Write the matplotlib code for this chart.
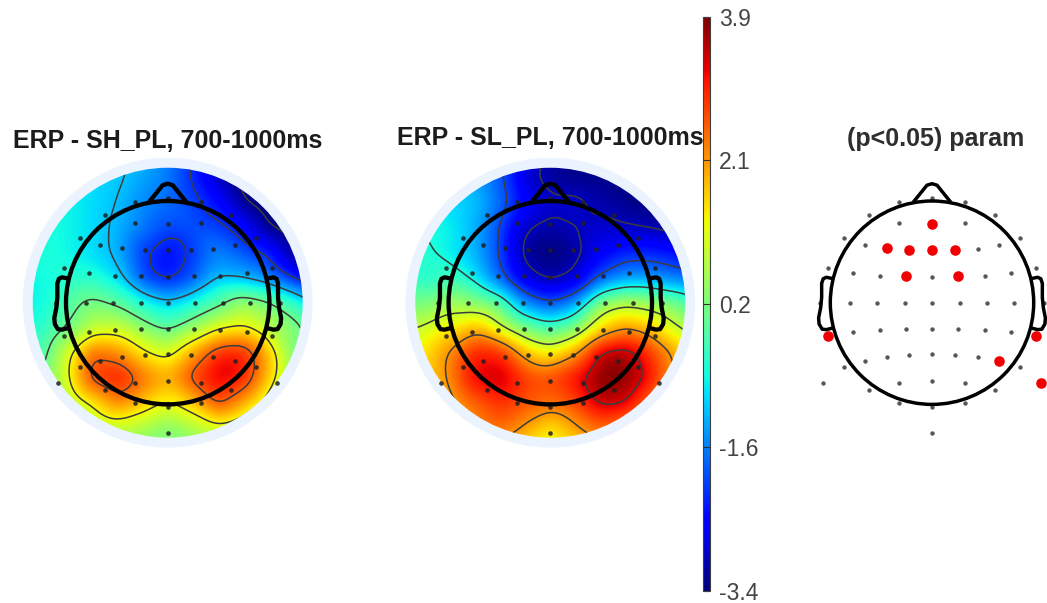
import numpy as np
import matplotlib
matplotlib.use("Agg")
from matplotlib import pyplot
from matplotlib import tri
from matplotlib.cm import ScalarMappable
from matplotlib.colors import Normalize
from matplotlib.patches import Circle

W, H = 1047, 603
head_px = 101.7  # pixels per head radius
vmin, vmax = -3.4, 3.9

# electrodes (crop px, head centre 366,398, radius 305)
other_x = [267, 366, 465, 177, 556, 267, 465, 103, 630, 164, 568, 503, 54, 679,
           130, 603, 209, 366, 524, 30, 120, 202, 285, 366, 449, 531, 613, 702,
           130, 603, 209, 287, 366, 445, 524, 164, 230, 298, 366, 435, 503, 103, 630,
           38, 267, 465, 366, 177, 556, 267, 465, 366, 366]
other_y = [95, 85, 95, 135, 135, 160, 160, 205, 205, 225, 225, 237, 295, 295,
           310, 310, 318, 320, 318, 398, 398, 398, 398, 398, 398, 398, 398, 398,
           487, 487, 480, 478, 476, 478, 480, 572, 560, 555, 553, 555, 560, 590, 590,
           640, 638, 638, 632, 660, 660, 700, 700, 712, 790]
sig_x = [366, 230, 298, 366, 435, 287, 445, 54, 679, 568, 693]
sig_y = [163, 235, 240, 241, 240, 319, 319, 498, 498, 572, 640]

# potential on a coarse grid, top row first
erp_sh = [
    [-0.8, -0.8, -0.8, -0.9, -1.1, -1.2, -1.5, -2.2, -3.0, -3.7, -3.8, -3.8, -3.8],
    [-0.8, -0.8, -0.8, -0.9, -1.0, -1.3, -1.6, -2.2, -3.0, -3.5, -3.7, -3.7, -3.7],
    [-0.7, -0.7, -0.7, -0.9, -1.1, -1.5, -1.7, -2.0, -2.4, -3.3, -3.6, -3.7, -3.7],
    [-0.6, -0.6, -0.7, -0.9, -1.2, -1.6, -2.0, -1.9, -2.0, -2.4, -3.3, -3.6, -3.7],
    [-0.6, -0.6, -0.7, -0.9, -1.2, -2.1, -2.5, -2.1, -1.5, -1.8, -2.2, -3.3, -3.6],
    [-0.7, -0.7, -0.5, -0.5, -0.9, -2.0, -2.4, -1.9, -1.1, -1.2, -1.5, -2.2, -2.9],
    [-0.8, -0.7, -0.1, 0.3, 0.0, -0.6, -1.0, -0.6, -0.1, 0.6, 0.3, -0.3, -1.2],
    [-0.6, -0.5, 0.1, 0.9, 1.0, 0.4, -0.1, 0.5, 1.2, 1.4, 0.8, 0.4, -0.2],
    [-0.5, -0.2, 1.1, 2.6, 2.2, 1.4, 1.0, 2.0, 3.0, 3.1, 1.9, 0.3, -0.4],
    [-0.3, 0.1, 1.2, 2.9, 3.2, 2.4, 1.9, 2.8, 3.4, 3.1, 1.8, 0.4, -0.2],
    [-0.1, 0.1, 0.7, 1.4, 2.3, 1.7, 1.2, 1.7, 2.8, 2.0, 1.0, 0.3, -0.1],
    [0.0, 0.1, 0.3, 0.6, 0.9, 0.7, 0.3, 0.7, 1.1, 0.7, 0.4, 0.2, 0.0],
    [0.0, 0.1, 0.2, 0.2, 0.2, 0.2, 0.2, 0.2, 0.2, 0.2, 0.2, 0.1, 0.0],
]
erp_sl = [
    [-1.0, -1.0, -1.2, -1.5, -2.0, -2.6, -3.2, -3.4, -3.4, -3.4, -3.4, -3.4, -3.4],
    [-0.9, -0.9, -1.0, -1.3, -1.8, -2.9, -3.2, -3.3, -3.3, -3.4, -3.4, -3.4, -3.4],
    [-0.8, -0.8, -0.9, -1.0, -1.7, -2.5, -2.9, -2.8, -3.1, -3.3, -3.4, -3.4, -3.4],
    [-0.6, -0.6, -0.7, -1.2, -2.0, -3.0, -3.15, -3.0, -2.85, -2.95, -3.05, -3.2, -3.3],
    [-0.5, -0.5, -0.8, -1.2, -2.0, -3.25, -3.5, -3.25, -2.6, -2.2, -2.2, -2.4, -2.7],
    [-0.3, -0.65, -0.3, -0.8, -1.8, -2.8, -3.2, -2.9, -1.9, -1.4, -1.4, -1.6, -1.9],
    [0.2, 0.2, 0.6, 0.4, 0.0, -1.5, -2.0, -1.5, 0.4, 0.8, 0.6, 0.2, -0.4],
    [0.8, 1.0, 1.4, 1.9, 1.0, 0.2, -0.3, 0.2, 1.5, 2.1, 1.7, 1.0, 0.4],
    [1.1, 1.5, 2.2, 3.1, 3.0, 1.8, 1.3, 2.0, 3.5, 3.7, 2.9, 2.0, 1.2],
    [1.2, 1.6, 2.2, 3.3, 3.5, 2.8, 2.7, 3.2, 3.9, 3.9, 3.2, 2.0, 1.2],
    [1.2, 1.6, 1.9, 2.5, 2.9, 2.6, 2.4, 2.7, 3.5, 3.4, 2.4, 1.6, 1.2],
    [1.1, 1.4, 1.8, 2.1, 2.5, 2.0, 1.4, 2.0, 2.5, 2.2, 1.8, 1.4, 1.1],
    [1.0, 1.2, 1.4, 1.6, 1.6, 1.4, 1.1, 1.4, 1.6, 1.6, 1.4, 1.2, 1.0],
]
levels_sh = [-3.3, -2.15, -1.1, 0.1, 1.3, 2.5]
levels_sl = [-3.0, -1.95, -0.6, 0.9, 2.1, 3.3]
cbar_ticks = [-3.4, -1.575, 0.25, 2.075, 3.9]
cbar_labels = ["-3.4", "-1.6", "0.2", "2.1", "3.9"]

# head outline in head radii
nose_x = [-0.175, -0.11, -0.05, 0, 0.05, 0.11, 0.175]
nose_y = [1.0, 1.08, 1.155, 1.17, 1.155, 1.08, 1.0]
ear_x = [0.99, 1.04, 1.07, 1.085, 1.085, 1.095, 1.115, 1.11, 1.08, 1.04, 0.98]
ear_y = [0.24, 0.25, 0.235, 0.19, 0.05, -0.05, -0.15, -0.21, -0.26, -0.265, -0.25]

pyplot.rcParams['font.family'] = ['Liberation Sans', 'DejaVu Sans']

fig = pyplot.figure(figsize=(W / 100, H / 100), dpi=100)


def head_axes(cx, cy, half=1.5):
    half_px = half * head_px
    ax = fig.add_axes([(cx - half_px) / W, 1 - (cy + half_px) / H, 2 * half_px / W, 2 * half_px / H])
    ax.set_xlim(-half, half)
    ax.set_ylim(-half, half)
    ax.axis('off')
    return ax


def draw_head(ax, lw):
    ax.add_patch(Circle((0, 0), 1.0, fill=False, ec='black', lw=lw, zorder=6, clip_on=False))
    ax.plot(nose_x, nose_y, color='black', lw=lw, zorder=6, clip_on=False, solid_joinstyle='round')
    for side in (-1, 1):
        ax.plot(side * np.array(ear_x), ear_y, color='black', lw=lw, zorder=6, clip_on=False,
                solid_joinstyle='round')


def smooth(z, step, sigma):
    # gaussian along both axes to take the kinks out of the linear surface
    n = int(4 * sigma / step)
    k = np.exp(-0.5 * (np.arange(-n, n + 1) * step / sigma) ** 2)
    k /= k.sum()
    z = np.pad(z, n, mode='edge')
    z = np.apply_along_axis(lambda r: np.convolve(r, k, mode='same'), 0, z)
    z = np.apply_along_axis(lambda r: np.convolve(r, k, mode='same'), 1, z)
    return z[n:-n, n:-n]


elec_x = (np.array(other_x + sig_x) - 366) / 305
elec_y = (398 - np.array(other_y + sig_y)) / 305

grid = np.arange(-6, 7) * 0.2458
gx, gy = np.meshgrid(grid, grid[::-1])
tr = tri.Triangulation(gx.ravel(), gy.ravel())
fine = np.linspace(grid[0], grid[-1], 500)
fx, fy = np.meshgrid(fine, fine)

panels = [(167.7, erp_sh, levels_sh), (550.3, erp_sl, levels_sl)]
for cx, values, levels in panels:
    ax = head_axes(cx, 302.7)
    ax.add_patch(Circle((0, 0), 1.425, fc='#ebf3fe', ec='none', zorder=0))
    interp = tri.LinearTriInterpolator(tr, np.array(values).ravel())
    zi = smooth(np.ma.filled(interp(fx, fy), 0.0), fine[1] - fine[0], 0.08)
    disc = Circle((0, 0), 1.327, transform=ax.transData)
    im = ax.imshow(zi, extent=[fine[0], fine[-1], fine[0], fine[-1]], origin='lower', cmap='jet',
                   vmin=vmin, vmax=vmax, interpolation='bilinear', zorder=1)
    ax.set_xlim(-1.5, 1.5)
    ax.set_ylim(-1.5, 1.5)
    im.set_clip_path(disc)
    cs = ax.contour(fx, fy, zi, levels=levels, colors='#3c3c3c', linewidths=1.1, linestyles='solid', zorder=2)
    cs.set_clip_path(disc)
    ax.scatter(elec_x, elec_y, s=11, c='#202020', linewidths=0, alpha=0.85, zorder=3, clip_on=False)
    draw_head(ax, 3.1)

ax3 = head_axes(932, 302.7, half=1.3)
n_other = len(other_x)
ax3.scatter(elec_x[:n_other], elec_y[:n_other], s=10, c='#3a3a3a', linewidths=0, alpha=0.85, zorder=3, clip_on=False)
ax3.scatter(elec_x[n_other:], elec_y[n_other:], s=58, c='#f00000', linewidths=0, zorder=7, clip_on=False)
draw_head(ax3, 2.5)

title_size = 18
fig.text(167.5 / W, 1 - 141 / H, "ERP - SH_PL, 700-1000ms", ha='center', va='center', fontsize=title_size,
         fontweight='bold', color='#1c1c1c')
fig.text(550.5 / W, 1 - 138 / H, "ERP - SL_PL, 700-1000ms", ha='center', va='center', fontsize=title_size,
         fontweight='bold', color='#1c1c1c')
fig.text(936 / W, 1 - 139 / H, "(p<0.05) param", ha='center', va='center', fontsize=title_size,
         fontweight='bold', color='#2e2e2e')

cax = fig.add_axes([702.5 / W, 1 - 590.5 / H, 7 / W, 573.5 / H])
cb = fig.colorbar(ScalarMappable(Normalize(vmin, vmax), 'jet'), cax=cax)
cb.set_ticks(cbar_ticks)
cb.set_ticklabels(cbar_labels)
cb.ax.tick_params(direction='in', length=5, width=0.8, color='#303030', labelsize=16.5, labelcolor='#444444', pad=7)
cb.outline.set_edgecolor('#404040')
cb.outline.set_linewidth(0.8)

pyplot.savefig("out.png", dpi=100)
